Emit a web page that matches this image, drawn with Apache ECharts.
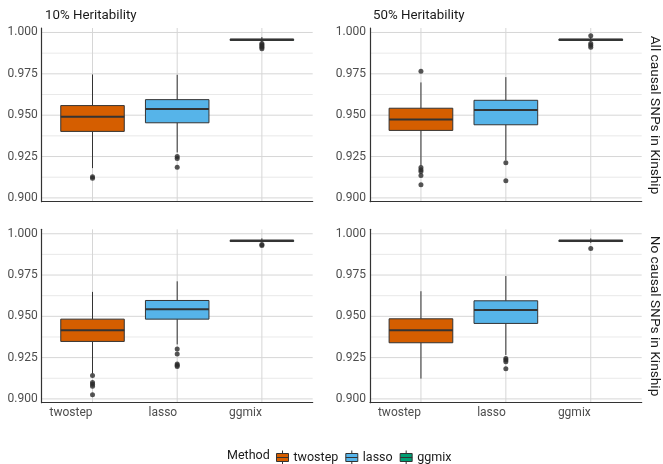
<!DOCTYPE html>
<html>
<head>
<meta charset="utf-8">
<script src="https://cdn.jsdelivr.net/npm/echarts@6/dist/echarts.min.js"></script>
<style>
html,body{margin:0;padding:0;background:#fff;}
#chart{width:663px;height:464px;}
</style>
</head>
<body>
<div id="chart"></div>
<script>
// ---------------- data ----------------
const methods = ['twostep', 'lasso', 'ggmix'];
const colTitles = ['10% Heritability', '50% Heritability'];
const rowTitles = ['All causal SNPs in Kinship', 'No causal SNPs in Kinship'];
const yTicks = [0.900, 0.925, 0.950, 0.975, 1.000];
const yMinorTicks = [0.9125, 0.9375, 0.9625, 0.9875];
const xTicks = [1, 2, 3];

// box stats: [lower whisker, Q1, median, Q3, upper whisker] per method
const h10AllStats = [
  [0.9180, 0.9402, 0.9490, 0.9558, 0.9746],
  [0.9275, 0.9454, 0.9538, 0.9594, 0.9744],
  [0.9942, 0.9952, 0.9956, 0.9960, 0.9972]
];
const h10AllOut = [
  [0.9128, 0.9118],
  [0.9250, 0.9238, 0.9186],
  [0.9934, 0.9926, 0.9918, 0.9910, 0.9902]
];
const h50AllStats = [
  [0.9195, 0.9408, 0.9474, 0.9542, 0.9698],
  [0.9228, 0.9442, 0.9532, 0.9590, 0.9730],
  [0.9945, 0.9952, 0.9956, 0.9960, 0.9970]
];
const h50AllOut = [
  [0.9766, 0.9184, 0.9170, 0.9160, 0.9136, 0.9080],
  [0.9212, 0.9104],
  [0.9980, 0.9934, 0.9922, 0.9910]
];
const h10NoneStats = [
  [0.9155, 0.9348, 0.9416, 0.9483, 0.9648],
  [0.9330, 0.9483, 0.9543, 0.9596, 0.9712],
  [0.9948, 0.9953, 0.9957, 0.9961, 0.9972]
];
const h10NoneOut = [
  [0.9142, 0.9100, 0.9088, 0.9076, 0.9025],
  [0.9302, 0.9272, 0.9212, 0.9204, 0.9196],
  [0.9935, 0.9929]
];
const h50NoneStats = [
  [0.9123, 0.9340, 0.9416, 0.9485, 0.9652],
  [0.9266, 0.9457, 0.9539, 0.9594, 0.9744],
  [0.9945, 0.9953, 0.9957, 0.9961, 0.9972]
];
const h50NoneOut = [
  [],
  [0.9245, 0.9235, 0.9225, 0.9183],
  [0.9910]
];

// ---------------- config ----------------
const FONT = 'Roboto, "Noto Sans", sans-serif';
const methodColors = ['#D55E00', '#56B4E9', '#009E73'];
const panels = [
  {stats: h10AllStats, out: h10AllOut, left: 41.7, top: 28, width: 271, height: 173.7, xLabels: false},
  {stats: h50AllStats, out: h50AllOut, left: 370, top: 28, width: 271.7, height: 173.7, xLabels: false},
  {stats: h10NoneStats, out: h10NoneOut, left: 41.7, top: 229.3, width: 271, height: 173.4, xLabels: true},
  {stats: h50NoneStats, out: h50NoneOut, left: 370, top: 229.3, width: 271.7, height: 173.4, xLabels: true}
];
const Y_MIN = 0.8977, Y_MAX = 1.0027;
const BOX_W = 0.75;

function hLineRenderer(color, width) {
  return function (params, api) {
    const cs = params.coordSys;
    const y = api.coord([1, api.value(0)])[1];
    return {type: 'line', silent: true,
      shape: {x1: cs.x, y1: y, x2: cs.x + cs.width, y2: y},
      style: {stroke: color, lineWidth: width}};
  };
}
function vLineRenderer(color, width) {
  return function (params, api) {
    const cs = params.coordSys;
    const x = api.coord([api.value(0), 0.95])[0];
    return {type: 'line', silent: true,
      shape: {x1: x, y1: cs.y, x2: x, y2: cs.y + cs.height},
      style: {stroke: color, lineWidth: width}};
  };
}
function renderBox(params, api) {
  const x = api.value(0);
  const lo = api.coord([x, api.value(1)]);
  const q1 = api.coord([x, api.value(2)]);
  const md = api.coord([x, api.value(3)]);
  const q3 = api.coord([x, api.value(4)]);
  const hi = api.coord([x, api.value(5)]);
  const w = api.size([BOX_W, 0])[0];
  const color = api.visual('color');
  return {type: 'group', children: [
    {type: 'line', shape: {x1: lo[0], y1: lo[1], x2: q1[0], y2: q1[1]}, style: {stroke: '#333', lineWidth: 1}},
    {type: 'line', shape: {x1: q3[0], y1: q3[1], x2: hi[0], y2: hi[1]}, style: {stroke: '#333', lineWidth: 1}},
    {type: 'rect', shape: {x: q1[0] - w / 2, y: q3[1], width: w, height: Math.max(q1[1] - q3[1], 0.5)},
      style: {fill: color, stroke: '#333', lineWidth: 1}},
    {type: 'line', shape: {x1: md[0] - w / 2, y1: md[1], x2: md[0] + w / 2, y2: md[1]}, style: {stroke: '#333', lineWidth: 2}}
  ]};
}

const grids = [], xAxes = [], yAxes = [], series = [];
panels.forEach((p, i) => {
  grids.push({left: p.left, top: p.top, width: p.width, height: p.height, containLabel: false});
  xAxes.push({
    type: 'value', gridIndex: i, min: 0.4, max: 3.6,
    axisLine: {show: true, onZero: false, lineStyle: {color: '#333', width: 1.2}},
    axisTick: {show: false},
    splitLine: {show: false},
    axisLabel: p.xLabels ? {
      show: true, customValues: xTicks, formatter: v => methods[Math.round(v) - 1],
      color: '#4d4d4d', fontSize: 12, fontFamily: FONT, margin: 4, align: 'right'
    } : {show: false}
  });
  yAxes.push({
    type: 'value', gridIndex: i, min: Y_MIN, max: Y_MAX,
    axisLine: {show: true, lineStyle: {color: '#333', width: 1.2}},
    axisTick: {show: false},
    splitLine: {show: false},
    axisLabel: {show: true, customValues: yTicks, formatter: v => v.toFixed(3),
      color: '#4d4d4d', fontSize: 12, fontFamily: FONT, margin: 4}
  });
  series.push({type: 'custom', xAxisIndex: i, yAxisIndex: i, z: 0, silent: true,
    renderItem: hLineRenderer('#e3e3e3', 0.8), data: yMinorTicks.map(v => [v])});
  series.push({type: 'custom', xAxisIndex: i, yAxisIndex: i, z: 0, silent: true,
    renderItem: hLineRenderer('#d6d6d6', 1), data: yTicks.map(v => [v])});
  series.push({type: 'custom', xAxisIndex: i, yAxisIndex: i, z: 0, silent: true,
    renderItem: vLineRenderer('#d6d6d6', 1), data: xTicks.map(v => [v])});
  methods.forEach((m, k) => {
    series.push({
      name: m, type: 'custom', xAxisIndex: i, yAxisIndex: i, z: 2,
      itemStyle: {color: methodColors[k]},
      renderItem: renderBox,
      encode: {x: 0, y: [1, 2, 3, 4, 5]},
      data: [[k + 1].concat(p.stats[k])]
    });
  });
  methods.forEach((m, k) => {
    series.push({
      name: m + ' outliers', type: 'scatter', xAxisIndex: i, yAxisIndex: i, z: 3,
      symbol: 'circle', symbolSize: 5, itemStyle: {color: '#2b2b2b'},
      data: p.out[k].map(v => [k + 1, v])
    });
  });
});

const boxIcon = 'path://M0,3 L12,3 L12,11 L0,11 Z M0,7 L12,7 M6,0 L6,3 M6,11 L6,14';

const option = {
  animation: false,
  backgroundColor: '#fff',
  textStyle: {fontFamily: FONT},
  title: [
    {text: colTitles[0], left: 40, top: 4, textStyle: {fontSize: 13.3, fontWeight: 'normal', color: '#1a1a1a', fontFamily: FONT}},
    {text: colTitles[1], left: 368, top: 4, textStyle: {fontSize: 13.3, fontWeight: 'normal', color: '#1a1a1a', fontFamily: FONT}},
    {text: 'Method', left: 222, top: 444, textStyle: {fontSize: 12.5, fontWeight: 'normal', color: '#1a1a1a', fontFamily: FONT}}
  ],
  legend: {
    data: methods, left: 271, top: 445, orient: 'horizontal',
    icon: boxIcon, itemWidth: 12, itemHeight: 14, itemGap: 7,
    itemStyle: {borderColor: '#333', borderWidth: 1},
    textStyle: {fontSize: 12.5, color: '#1a1a1a', fontFamily: FONT},
    selectedMode: false
  },
  graphic: [
    {type: 'text', x: 654, y: 115, rotation: -Math.PI / 2,
      style: {text: rowTitles[0], font: '13.7px ' + FONT, fill: '#1a1a1a', align: 'center', verticalAlign: 'middle'}},
    {type: 'text', x: 654, y: 316, rotation: -Math.PI / 2,
      style: {text: rowTitles[1], font: '13.7px ' + FONT, fill: '#1a1a1a', align: 'center', verticalAlign: 'middle'}}
  ],
  grid: grids, xAxis: xAxes, yAxis: yAxes, series: series
};

const chart = echarts.init(document.getElementById('chart'), null, {renderer: 'canvas'});
chart.setOption(option);
</script>
</body>
</html>
